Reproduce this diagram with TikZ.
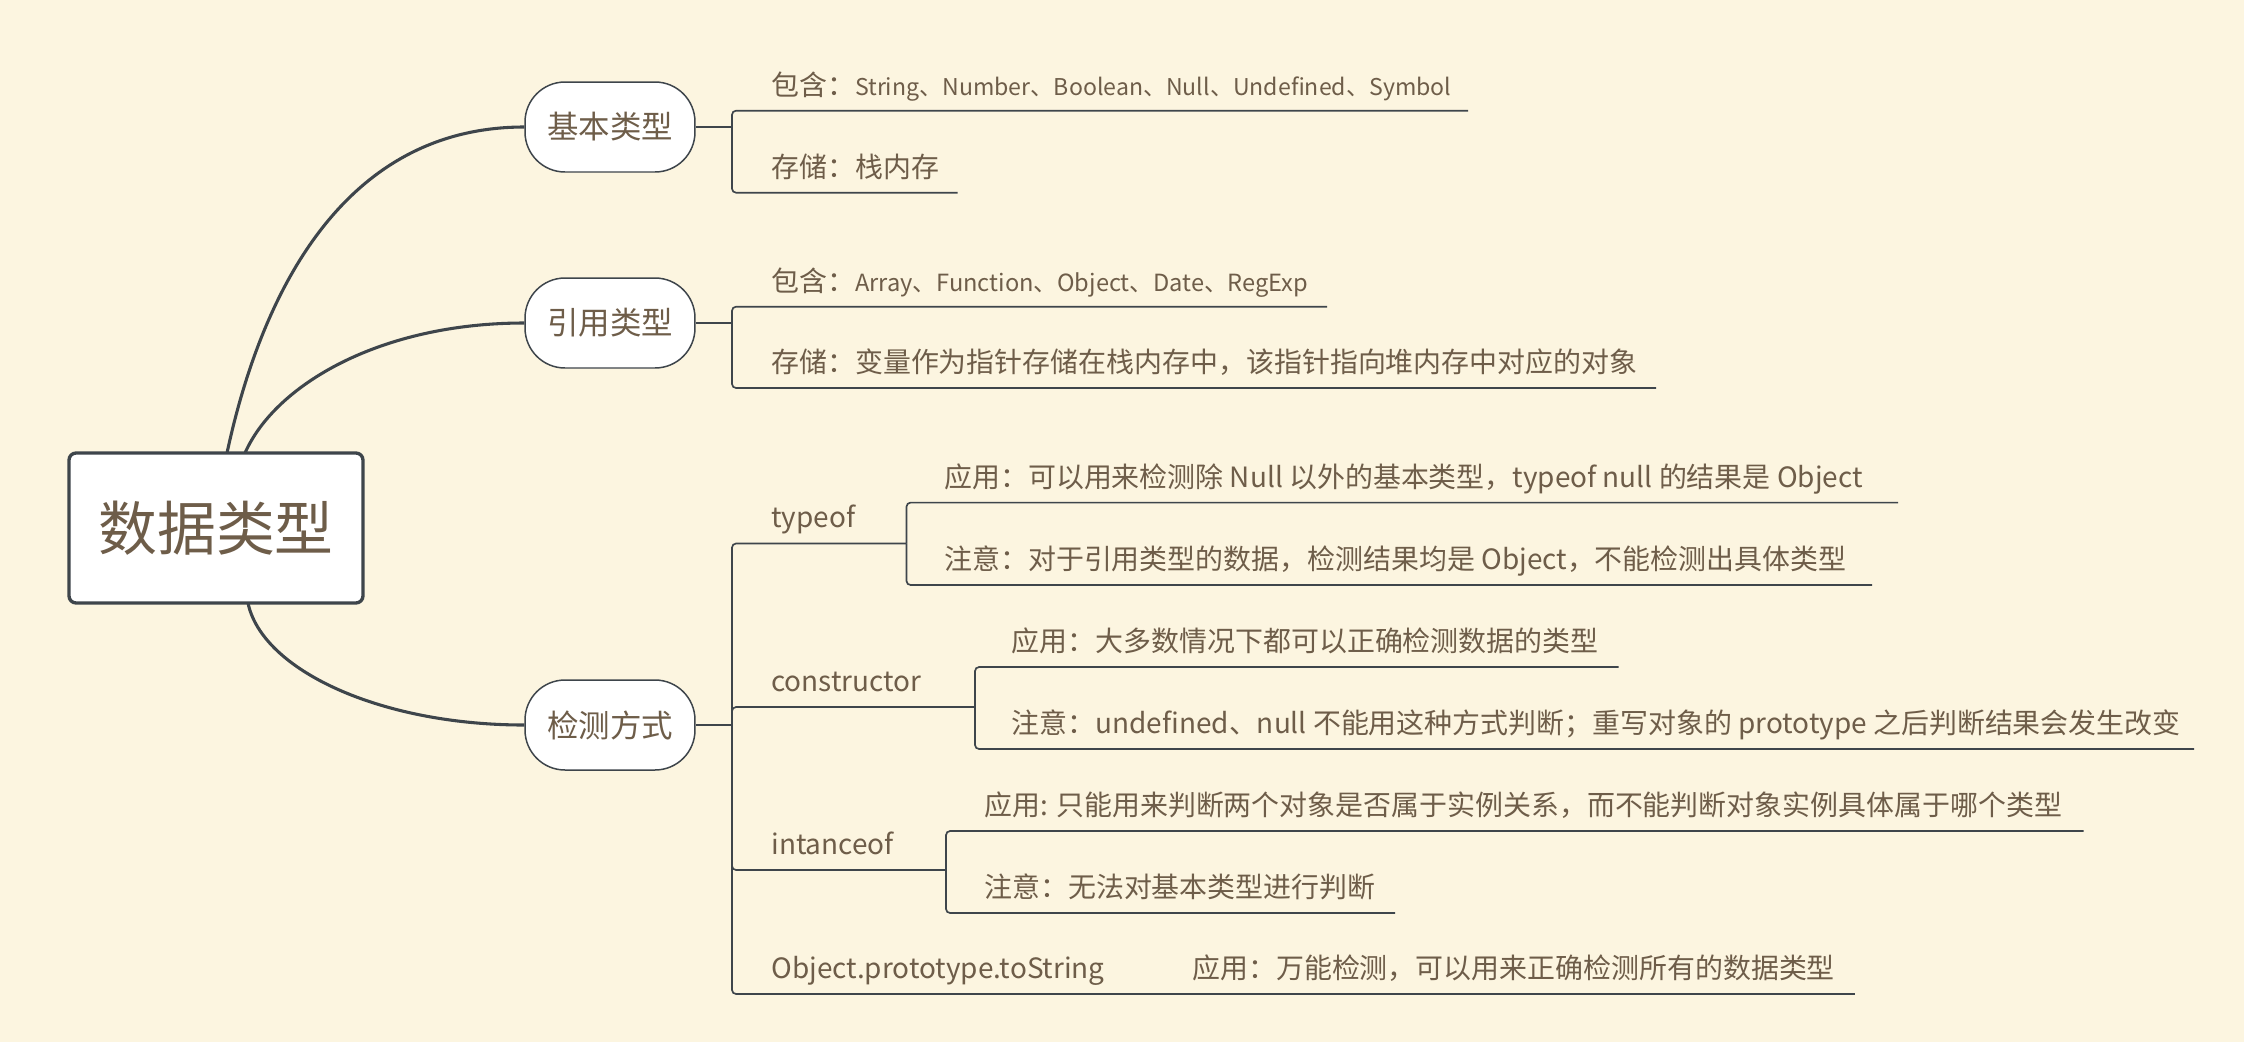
\documentclass[tikz,border=0pt]{standalone}
\usepackage{fontspec}
\setmainfont{Noto Sans CJK SC}
\definecolor{bgcol}{RGB}{252,245,224}
\definecolor{linecol}{RGB}{62,69,75}
\definecolor{txtcol}{RGB}{110,93,73}
\newcommand\latpart[2][13.15]{{\fontsize{#1}{16}\selectfont #2}}
\tikzset{
  link/.style={draw=linecol, line width=0.95pt},
  rlink/.style={link, rounded corners=2.3pt},
  branch/.style={draw=linecol, line width=1.75pt},
  rootbox/.style={draw=linecol, fill=white, line width=1.9pt, rounded corners=4pt,
    minimum width=5.88cm, minimum height=3.0cm, inner sep=0pt, text=txtcol,
    font=\fontsize{33.5}{36}\selectfont},
  pill/.style={draw=linecol, fill=white, line width=0.85pt, rounded corners=0.8cm,
    minimum width=3.4cm, minimum height=1.8cm, inner sep=0pt, text=txtcol,
    font=\fontsize{17.9}{20}\selectfont},
  txt/.style={anchor=base west, inner sep=0pt, text=txtcol,
    font=\fontsize{15.9}{18}\selectfont},
}
\begin{document}
\begin{tikzpicture}[x=0.02cm, y=-0.02cm]
\fill[bgcol] (0,0) rectangle (2244,1042);
\useasboundingbox (0,0) rectangle (2244,1042);

% main nodes
\node[rootbox] (root) at (216,528) {数据类型};
\node[pill] (basic) at (610,127) {基本类型};
\node[pill] (ref) at (610,323) {引用类型};
\node[pill] (detect) at (610,725) {检测方式};

% curved branches
\coordinate (r1) at (227,453);
\coordinate (r2) at (245,453);
\coordinate (r3) at (248,603);
\draw[branch] (r1) .. controls (262,290) and (345,127) .. (basic.west);
\draw[branch] (r2) .. controls (275,385) and (380,323) .. (ref.west);
\draw[branch] (r3) .. controls (262,670) and (380,725) .. (detect.west);

% ---- 基本类型
\coordinate (jA) at (732,127);
\coordinate (a1e) at (1468,110.7);
\coordinate (a2e) at (957.5,192.7);
\draw[link] (basic.east) -- (jA);
\draw[rlink] (jA) |- (a1e);
\draw[rlink] (jA) |- (a2e);
\node[txt] (a1) at (771,95) {包含：\latpart{String、Number、Boolean、Null、Undefined、Symbol}};
\node[txt] (a2) at (771,177) {存储：栈内存};

% ---- 引用类型
\coordinate (jB) at (732,323);
\coordinate (b1e) at (1327,306.7);
\coordinate (b2e) at (1656,388);
\draw[link] (ref.east) -- (jB);
\draw[rlink] (jB) |- (b1e);
\draw[rlink] (jB) |- (b2e);
\node[txt] (b1) at (771,291) {包含：\latpart[13.45]{Array、Function、Object、Date、RegExp}};
\node[txt] (b2) at (771,372) {存储：变量作为指针存储在栈内存中，该指针指向堆内存中对应的对象};

% ---- 检测方式
\coordinate (jC) at (732,725);
\draw[link] (detect.east) -- (jC);
\coordinate (tE) at (906.5,543.5);
\coordinate (kE) at (975,707);
\coordinate (iE) at (946,870);
\coordinate (oE) at (1160,994);
\coordinate (oEnd) at (1855,994);
\draw[rlink] (jC) |- (tE);
\draw[rlink] (jC) |- (kE);
\draw[rlink] (jC) |- (iE);
\draw[rlink] (jC) |- (oE);
\draw[link] (oE) -- (oEnd);

\node[txt] (typeof) at (771,527.5) {typeof};
\node[txt] (constr) at (771,691) {constructor};
\node[txt] (inst) at (771,854) {intanceof};
\node[txt] (objts) at (771,978) {Object.prototype.toString};

% typeof children
\coordinate (t1e) at (1898,502.6);
\coordinate (t2e) at (1872,585);
\draw[rlink] (tE) |- (t1e);
\draw[rlink] (tE) |- (t2e);
\node[txt] (t1) at (944,487) {应用：可以用来检测除 Null 以外的基本类型，typeof null 的结果是 Object};
\node[txt] (t2) at (944,569) {注意：对于引用类型的数据，检测结果均是 Object，不能检测出具体类型};

% constructor children
\coordinate (k1e) at (1618.7,667);
\coordinate (k2e) at (2194,749);
\draw[rlink] (kE) |- (k1e);
\draw[rlink] (kE) |- (k2e);
\node[txt] (k1) at (1011.5,651) {应用：大多数情况下都可以正确检测数据的类型};
\node[txt] (k2) at (1011.5,733) {注意：undefined、null 不能用这种方式判断；重写对象的 prototype 之后判断结果会发生改变};

% intanceof children
\coordinate (i1e) at (2083.5,831);
\coordinate (i2e) at (1395,913);
\draw[rlink] (iE) |- (i1e);
\draw[rlink] (iE) |- (i2e);
\node[txt] (i1) at (984,815) {应用: 只能用来判断两个对象是否属于实例关系，而不能判断对象实例具体属于哪个类型};
\node[txt] (i2) at (984,897) {注意：无法对基本类型进行判断};

% Object.prototype.toString child
\node[txt] (o1) at (1192,978) {应用：万能检测，可以用来正确检测所有的数据类型};
\end{tikzpicture}
\end{document}
